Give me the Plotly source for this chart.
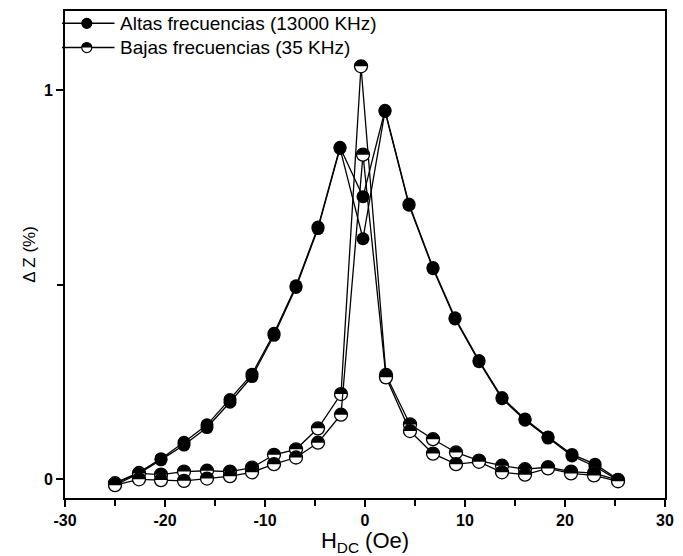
import math
import plotly.graph_objects as go

# H_DC (Oe) positions
x_altas = [-25, -22.6, -20.4, -18.1, -15.8, -13.5, -11.3, -9.1, -6.9, -4.7, -2.5, -0.2,
           2.0, 4.4, 6.8, 9.0, 11.4, 13.7, 16.0, 18.3, 20.7, 23.0, 25.3]
x_bajas_a = [-25, -22.6, -20.4, -18.1, -15.8, -13.5, -11.3, -9.1, -6.9, -4.7, -2.4, -0.4,
             2.1, 4.5, 6.8, 9.1, 11.4, 13.7, 16.0, 18.3, 20.6, 22.9, 25.3]
x_bajas_b = [-25, -22.6, -20.4, -18.1, -15.8, -13.5, -11.3, -9.1, -6.9, -4.7, -2.4, -0.2,
             2.1, 4.5, 6.8, 9.1, 11.4, 13.7, 16.0, 18.3, 20.6, 22.9, 25.3]

# Altas frecuencias (13000 KHz), two sweeps
altas_1 = [-0.010, 0.018, 0.053, 0.095, 0.140, 0.205, 0.270, 0.375, 0.497, 0.648, 0.853, 0.726,
           0.948, 0.707, 0.544, 0.415, 0.305, 0.210, 0.155, 0.109, 0.064, 0.039, 0.000]
altas_2 = [-0.015, 0.015, 0.050, 0.088, 0.133, 0.198, 0.264, 0.370, 0.493, 0.644, 0.850, 0.618,
           0.945, 0.704, 0.541, 0.412, 0.302, 0.207, 0.152, 0.106, 0.060, 0.033, -0.002]

# Bajas frecuencias (35 KHz), two sweeps
bajas_a = [-0.010, 0.015, 0.012, 0.020, 0.022, 0.020, 0.030, 0.063, 0.077, 0.131, 0.219, 1.061,
           0.268, 0.141, 0.103, 0.069, 0.048, 0.035, 0.026, 0.031, 0.020, 0.016, -0.002]
bajas_b = [-0.015, 0.000, -0.002, -0.004, 0.002, 0.008, 0.018, 0.039, 0.056, 0.094, 0.166, 0.834,
           0.262, 0.124, 0.066, 0.039, 0.045, 0.018, 0.012, 0.028, 0.015, 0.010, -0.005]

series_names = ["Altas frecuencias (13000 KHz)", "Bajas frecuencias (35 KHz)"]
x_ticks = [-30, -20, -10, 0, 10, 20, 30]
y_ticks = [0, 1]

FONT = "Liberation Sans, Arial, sans-serif"
BLACK = "#000000"
WHITE = "#ffffff"

W, H = 683, 556
ML, MR, MT, MB = 65, 12, 9, 54
MSIZE = 13


def top_half_path(r):
    pts = [(r * math.cos(math.radians(a)), r * math.sin(math.radians(a))) for a in range(0, 181, 10)]
    return "M " + " L ".join(f"{px:.2f},{py:.2f}" for px, py in pts) + " Z"


HALF_PATH = top_half_path(MSIZE / 2 - 0.3)

fig = go.Figure()

for yv in [altas_1, altas_2]:
    fig.add_trace(go.Scatter(
        x=x_altas, y=yv, mode="lines+markers",
        name=series_names[0], showlegend=False,
        line=dict(color=BLACK, width=1.3),
        marker=dict(symbol="circle", size=MSIZE, color=BLACK, line=dict(width=0)),
    ))

for xv, yv in [(x_bajas_a, bajas_a), (x_bajas_b, bajas_b)]:
    fig.add_trace(go.Scatter(
        x=xv, y=yv, mode="lines+markers",
        name=series_names[1], showlegend=False,
        line=dict(color=BLACK, width=1.3),
        marker=dict(symbol="circle", size=MSIZE, color=WHITE, line=dict(width=1.3, color=BLACK)),
    ))
    # black upper half of each half-filled symbol, anchored at the data point
    for xi, yi in zip(xv, yv):
        fig.add_shape(type="path", xref="x", yref="y", xsizemode="pixel", ysizemode="pixel",
                      xanchor=xi, yanchor=yi, path=HALF_PATH,
                      fillcolor=BLACK, line=dict(width=0), layer="above")


# manual legend (top-left, inside the frame)
def px_to_paper(px, py):
    return (px - ML) / (W - ML - MR), (H - MB - py) / (H - MB - MT)


LEG_R = 5
legend_rows = [21.5, 46]
for i, (py, name) in enumerate(zip(legend_rows, series_names)):
    x0, y0 = px_to_paper(62, py)
    x1, _ = px_to_paper(115, py)
    xm, _ = px_to_paper(87, py)
    xt, _ = px_to_paper(119, py)
    fig.add_shape(type="line", xref="paper", yref="paper", x0=x0, x1=x1, y0=y0, y1=y0,
                  line=dict(color=BLACK, width=1.5))
    fig.add_shape(type="circle", xref="paper", yref="paper", xsizemode="pixel", ysizemode="pixel",
                  xanchor=xm, yanchor=y0, x0=-LEG_R, x1=LEG_R, y0=-LEG_R, y1=LEG_R,
                  fillcolor=BLACK if i == 0 else WHITE, line=dict(color=BLACK, width=1.2))
    if i == 1:
        fig.add_shape(type="path", xref="paper", yref="paper", xsizemode="pixel", ysizemode="pixel",
                      xanchor=xm, yanchor=y0, path=top_half_path(LEG_R),
                      fillcolor=BLACK, line=dict(width=0))
    fig.add_annotation(xref="paper", yref="paper", x=xt, y=y0, text=name, showarrow=False,
                       xanchor="left", yanchor="middle",
                       font=dict(family=FONT, size=19, color=BLACK))

axis_common = dict(
    showline=True, linecolor=BLACK, linewidth=2, mirror=True,
    ticks="outside", tickcolor=BLACK, tickwidth=1.5, ticklen=7,
    showgrid=False, zeroline=False,
    tickfont=dict(family=FONT, size=16, color=BLACK, weight="bold"),
)

fig.update_layout(
    width=W, height=H,
    margin=dict(l=ML, r=MR, t=MT, b=MB),
    paper_bgcolor="white", plot_bgcolor="white",
    font=dict(family=FONT, color=BLACK),
    xaxis=dict(range=[-30, 30], tickvals=x_ticks, ticktext=[str(v) for v in x_ticks],
               minor=dict(dtick=5, tick0=0, ticks="outside", ticklen=6, tickcolor=BLACK, tickwidth=1.5),
               title=dict(text="H<sub>DC</sub> (Oe)", font=dict(family=FONT, size=22, color=BLACK), standoff=2),
               **axis_common),
    yaxis=dict(range=[-0.048, 1.203], tickvals=y_ticks, ticktext=[str(v) for v in y_ticks],
               minor=dict(dtick=0.5, tick0=0, ticks="outside", ticklen=6, tickcolor=BLACK, tickwidth=1.5),
               title=dict(text="\u0394 Z (%)", font=dict(family=FONT, size=17, color=BLACK), standoff=4),
               **axis_common),
    showlegend=False,
)

fig.write_html("out.html")
